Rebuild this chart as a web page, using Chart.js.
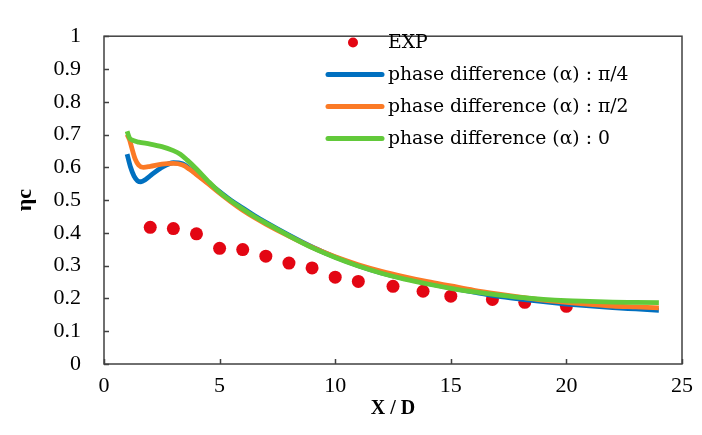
<!DOCTYPE html>
<html>
<head>
<meta charset="utf-8">
<script src="https://cdn.jsdelivr.net/npm/chart.js@4.4.0/dist/chart.umd.min.js"></script>
<style>
html, body { margin: 0; padding: 0; background: #fff; }
#wrap { width: 702px; height: 435px; }
</style>
</head>
<body>
<div id="wrap"><canvas id="myChart"></canvas></div>
<script>
// 축 눈금
const xTicks = [0, 5, 10, 15, 20, 25];
const yTicks = [0, 0.1, 0.2, 0.3, 0.4, 0.5, 0.6, 0.7, 0.8, 0.9, 1];

// 실험값 (EXP)
const expX = [2, 3, 4, 5, 6, 7, 8, 9, 10, 11, 12.5, 13.8, 15, 16.8, 18.2, 20];
const expY = [0.417, 0.413, 0.397, 0.353, 0.349, 0.329, 0.308, 0.293, 0.265, 0.252, 0.237, 0.222, 0.207, 0.197, 0.188, 0.176];

// phase difference : pi/4
const q4X = [1, 1.15, 1.3, 1.45, 1.6, 1.8, 2.1, 2.5, 3, 3.4, 3.7, 4, 4.5, 5, 5.5, 6, 6.5, 7, 8, 9, 10, 11, 12, 13, 14, 15, 16, 17, 18, 19, 20, 21, 22, 23, 24];
const q4Y = [0.64, 0.6, 0.573, 0.559, 0.556, 0.563, 0.58, 0.6, 0.614, 0.611, 0.596, 0.58, 0.553, 0.526, 0.499, 0.476, 0.453, 0.432, 0.393, 0.357, 0.326, 0.3, 0.278, 0.261, 0.246, 0.232, 0.219, 0.207, 0.198, 0.19, 0.183, 0.177, 0.172, 0.168, 0.164];

// phase difference : pi/2
const q2X = [1, 1.1, 1.2, 1.35, 1.5, 1.7, 2, 2.5, 3, 3.4, 3.7, 4, 4.5, 5, 5.5, 6, 6.5, 7, 8, 9, 10, 11, 12, 13, 14, 15, 16, 17, 18, 19, 20, 21, 22, 23, 24];
const q2Y = [0.7, 0.685, 0.66, 0.625, 0.607, 0.6, 0.603, 0.61, 0.612, 0.607, 0.594, 0.578, 0.55, 0.521, 0.494, 0.469, 0.447, 0.427, 0.39, 0.356, 0.327, 0.303, 0.283, 0.266, 0.251, 0.238, 0.225, 0.214, 0.204, 0.195, 0.188, 0.182, 0.177, 0.174, 0.171];

// phase difference : 0
const q0X = [1, 1.1, 1.25, 1.5, 2, 2.5, 3, 3.3, 3.6, 4, 4.5, 5, 5.5, 6, 6.5, 7, 8, 9, 10, 11, 12, 13, 14, 15, 16, 17, 18, 19, 20, 21, 22, 23, 24];
const q0Y = [0.71, 0.69, 0.682, 0.677, 0.671, 0.663, 0.651, 0.64, 0.622, 0.595, 0.558, 0.524, 0.497, 0.473, 0.45, 0.43, 0.391, 0.355, 0.325, 0.299, 0.277, 0.259, 0.244, 0.231, 0.22, 0.211, 0.203, 0.197, 0.193, 0.191, 0.189, 0.188, 0.187];

const labels = ['EXP', 'phase difference (α) : π/4', 'phase difference (α) : π/2', 'phase difference (α) : 0'];

function pts(xs, ys) {
	return xs.map((x, i) => ({ x: x, y: ys[i] }));
}

const serif = "'Liberation Serif', 'Times New Roman', serif";
const axisColor = '#404040';

// 테두리 + 안쪽 눈금
const frame = {
	id: 'frame',
	afterDraw(chart) {
		const { ctx, chartArea: a, scales } = chart;
		ctx.save();
		ctx.strokeStyle = axisColor;
		ctx.lineWidth = 1.5;
		ctx.strokeRect(a.left, a.top, a.right - a.left, a.bottom - a.top);
		ctx.beginPath();
		yTicks.forEach(v => {
			const y = Math.round(scales.y.getPixelForValue(v)) + 0.5;
			ctx.moveTo(a.left, y);
			ctx.lineTo(a.left + 5, y);
		});
		xTicks.forEach(v => {
			const x = Math.round(scales.x.getPixelForValue(v)) + 0.5;
			ctx.moveTo(x, a.bottom);
			ctx.lineTo(x, a.bottom - 5);
		});
		ctx.stroke();
		ctx.restore();
	}
};

// 범례 (그래프 안쪽 오른쪽 위)
const innerLegend = {
	id: 'innerLegend',
	afterDraw(chart) {
		const ctx = chart.ctx;
		const ds = chart.data.datasets;
		ctx.save();
		ctx.font = "18.8px 'DejaVu Serif', serif";
		ctx.textBaseline = 'middle';
		ds.forEach((d, i) => {
			const y = 42.5 + i * 32;
			if (d.showLine) {
				ctx.strokeStyle = d.borderColor;
				ctx.lineWidth = 5;
				ctx.lineCap = 'round';
				ctx.beginPath();
				ctx.moveTo(328, y);
				ctx.lineTo(382, y);
				ctx.stroke();
			} else {
				ctx.fillStyle = d.backgroundColor;
				ctx.beginPath();
				ctx.arc(353, y, 5, 0, Math.PI * 2);
				ctx.fill();
			}
			ctx.fillStyle = '#000';
			ctx.fillText(d.label, 388, y + 1);
		});
		ctx.restore();
	}
};

const ctx = document.getElementById('myChart');

new Chart(ctx, {
	type: 'scatter',
	data: {
		datasets: [
			{
				label: labels[0],
				data: pts(expX, expY),
				showLine: false,
				pointRadius: 6.5,
				pointBackgroundColor: '#e30613',
				backgroundColor: '#e30613',
				pointBorderWidth: 0,
				order: 4
			},
			{
				label: labels[1],
				data: pts(q4X, q4Y),
				showLine: true,
				borderColor: '#0070c0',
				borderWidth: 4.8,
				pointRadius: 0,
				cubicInterpolationMode: 'monotone',
				order: 3
			},
			{
				label: labels[2],
				data: pts(q2X, q2Y),
				showLine: true,
				borderColor: '#fb7a26',
				borderWidth: 4.8,
				pointRadius: 0,
				cubicInterpolationMode: 'monotone',
				order: 2
			},
			{
				label: labels[3],
				data: pts(q0X, q0Y),
				showLine: true,
				borderColor: '#62c93a',
				borderWidth: 4.8,
				pointRadius: 0,
				cubicInterpolationMode: 'monotone',
				order: 1
			}
		]
	},
	options: {
		responsive: true,
		maintainAspectRatio: false,
		animation: false,
		events: [],
		layout: { padding: { left: 0, right: 15, top: 20, bottom: 0 } },
		plugins: {
			legend: { display: false },
			tooltip: { enabled: false }
		},
		scales: {
			x: {
				type: 'linear',
				min: 0,
				max: 25,
				afterBuildTicks: s => { s.ticks = xTicks.map(v => ({ value: v })); },
				afterFit: s => { s.height = 71; },
				grid: { display: false, drawTicks: false },
				border: { display: false },
				ticks: { color: '#000', padding: 9, font: { family: serif, size: 22 }, callback: v => String(v) },
				title: {
					display: true,
					text: 'X / D',
					color: '#000',
					font: { family: serif, size: 20, weight: 'bold' },
					padding: { top: 0, bottom: 14 }
				}
			},
			y: {
				type: 'linear',
				min: 0,
				max: 1,
				afterBuildTicks: s => { s.ticks = yTicks.map(v => ({ value: v })); },
				afterFit: s => { s.width = 104; },
				grid: { display: false, drawTicks: false },
				border: { display: false },
				ticks: { color: '#000', padding: 23, font: { family: serif, size: 22 }, callback: v => String(v) },
				title: {
					display: true,
					text: 'ηc',
					color: '#000',
					font: { family: serif, size: 22, weight: 'bold' },
					padding: { top: 12, bottom: 0 }
				}
			}
		}
	},
	plugins: [frame, innerLegend]
});
</script>
</body>
</html>
